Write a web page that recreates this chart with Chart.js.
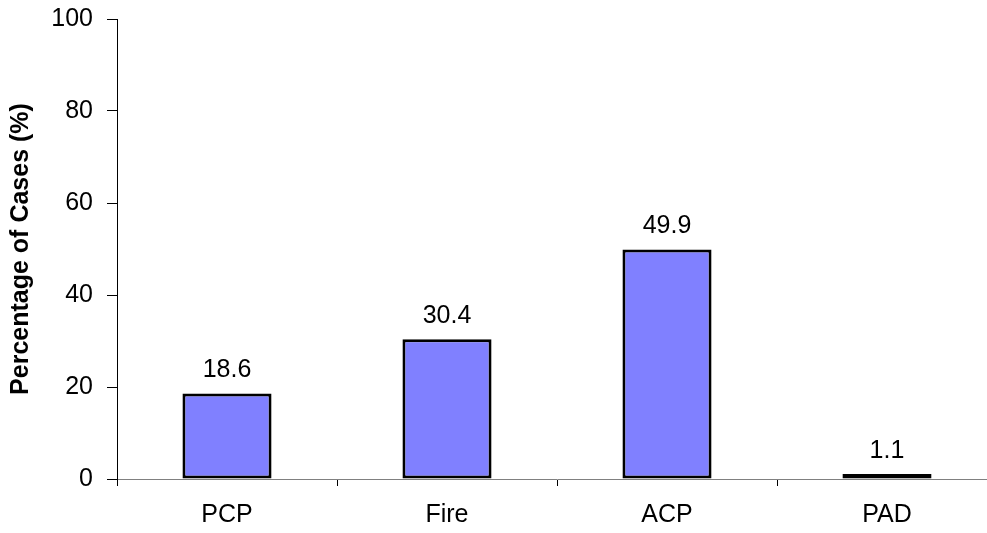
<!DOCTYPE html>
<html>
<head>
<meta charset="utf-8">
<script src="https://cdn.jsdelivr.net/npm/chart.js@4.4.0/dist/chart.umd.min.js"></script>
<style>
  html, body { margin: 0; padding: 0; background: #fff; overflow: hidden; }
  #wrap { width: 1000px; height: 533px; }
</style>
</head>
<body>
<div id="wrap"><canvas id="chart"></canvas></div>
<script>
const categories = ["PCP", "Fire", "ACP", "PAD"];
const caseShares = [18.6, 30.4, 49.9, 1.1];
const yTicks = [0, 20, 40, 60, 80, 100];

const FONT = "'Liberation Sans', Arial, sans-serif";

// value labels above each bar
const barLabels = {
  id: 'barLabels',
  afterDatasetsDraw(chart) {
    const ctx = chart.ctx;
    const meta = chart.getDatasetMeta(0);
    ctx.save();
    ctx.font = "25px " + FONT;
    ctx.fillStyle = "#000";
    ctx.textAlign = "center";
    ctx.textBaseline = "alphabetic";
    meta.data.forEach((bar, i) => {
      ctx.fillText(caseShares[i].toFixed(1), bar.x, bar.y - 16);
    });
    ctx.restore();
  }
};

const ctx = document.getElementById("chart").getContext("2d");
new Chart(ctx, {
  type: "bar",
  data: {
    labels: categories,
    datasets: [{
      data: caseShares,
      backgroundColor: "#8080FF",
      borderColor: "#000",
      borderWidth: 3,
      borderSkipped: false,
      categoryPercentage: 1,
      barPercentage: 0.405
    }]
  },
  options: {
    responsive: true,
    maintainAspectRatio: false,
    animation: false,
    layout: { padding: { top: 0, right: 3, left: 0, bottom: 0 } },
    plugins: {
      legend: { display: false },
      tooltip: { enabled: false }
    },
    scales: {
      x: {
        grid: {
          display: true,
          drawOnChartArea: false,
          drawTicks: true,
          tickLength: 7,
          offset: true,
          color: "#000"
        },
        border: { color: "#808080", width: 1 },
        ticks: {
          color: "#000",
          font: { family: FONT, size: 25 },
          padding: 14
        },
        afterFit(scale) { scale.height = 54; }
      },
      y: {
        min: 0,
        max: 100,
        afterBuildTicks(scale) { scale.ticks = yTicks.map(v => ({ value: v })); },
        grid: {
          display: true,
          drawOnChartArea: false,
          drawTicks: true,
          tickLength: 10,
          color: "#000"
        },
        border: { color: "#000", width: 1 },
        ticks: {
          color: "#000",
          font: { family: FONT, size: 25 },
          padding: 14
        },
        title: {
          display: true,
          text: "Percentage of Cases (%)",
          color: "#000",
          font: { family: FONT, size: 25, weight: "bold" },
          padding: { top: 6, bottom: 0 }
        },
        afterFit(scale) {
          scale.width = 117;
          scale.paddingTop = 19;
          scale.paddingBottom = 0;
        }
      }
    }
  },
  plugins: [barLabels]
});
</script>
</body>
</html>
